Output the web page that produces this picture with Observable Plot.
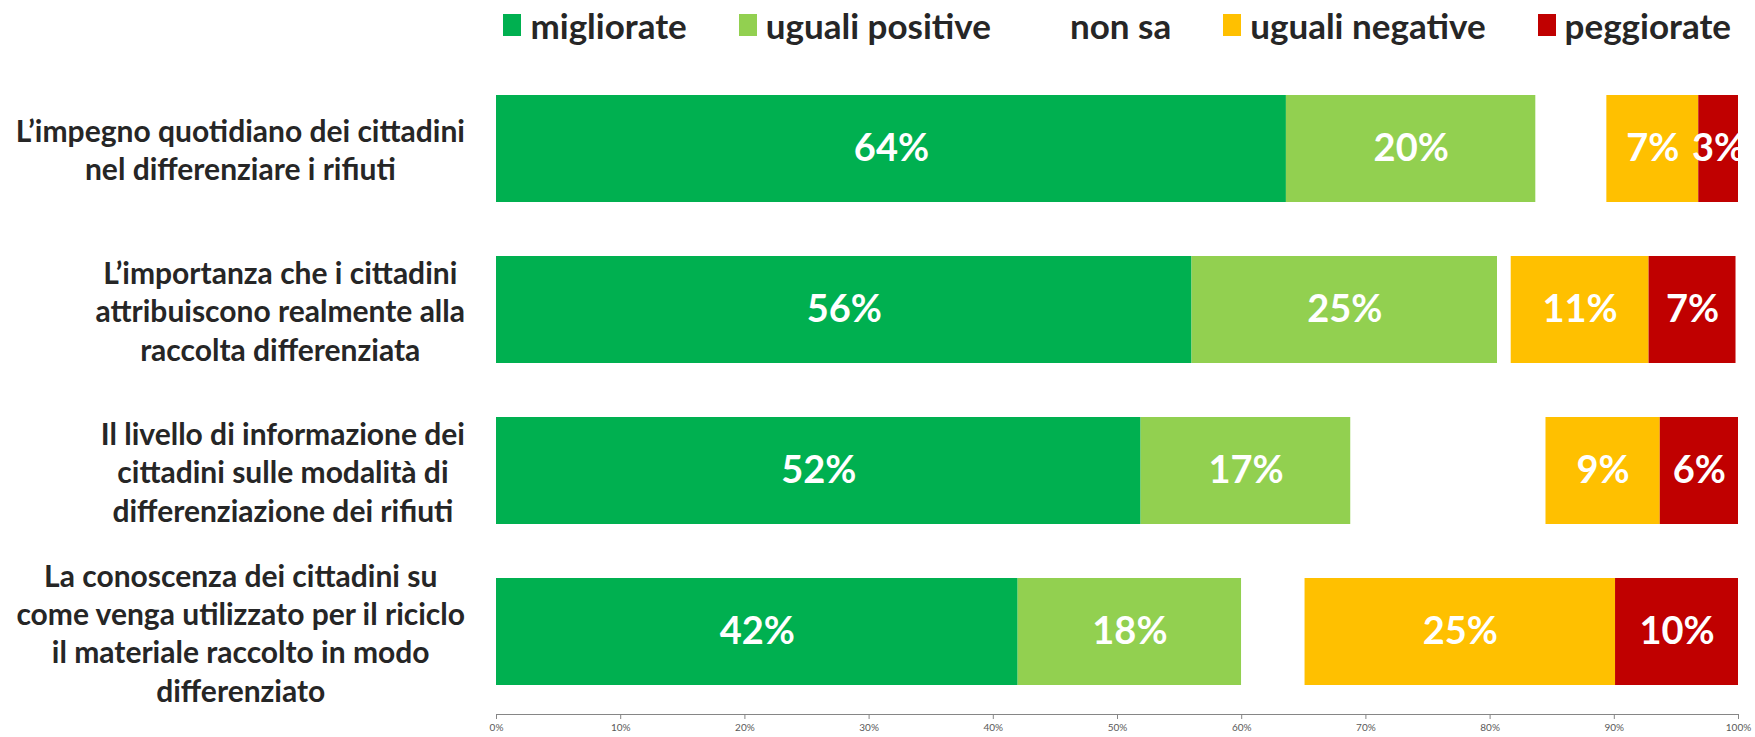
<!DOCTYPE html>
<html>
<head>
<meta charset="utf-8">
<script src="https://cdn.jsdelivr.net/npm/d3@7"></script>
<script src="https://cdn.jsdelivr.net/npm/@observablehq/plot@0.6"></script>
<style>
  html, body { margin: 0; padding: 0; background: #fff; }
  #wrap { width: 1755px; font-family: Lato, "Noto Sans", sans-serif; }
  #legend { height: 50px; display: flex; align-items: center; justify-content: flex-end; padding-right: 24px; gap: 52px; box-sizing: border-box; }
  .item { display: flex; align-items: center; gap: 9px; font-weight: 700; font-size: 35px; color: #262626; }
  .sw { width: 18px; height: 22px; display: inline-block; }
  svg [aria-label="x-axis tick label"] { fill: #595959; }
</style>
</head>
<body>
<div id="wrap">
  <div id="legend"></div>
  <div id="chart"></div>
</div>
<script>
const categories = [
  "L’impegno quotidiano dei cittadini\nnel differenziare i rifiuti",
  "L’importanza che i cittadini\nattribuiscono realmente alla\nraccolta differenziata",
  "Il livello di informazione dei\ncittadini sulle modalità di\ndifferenziazione dei rifiuti",
  "La conoscenza dei cittadini su\ncome venga utilizzato per il riciclo\nil materiale raccolto in modo\ndifferenziato"
];
const series = ["migliorate", "uguali positive", "non sa", "uguali negative", "peggiorate"];
const colors = ["#00B050", "#92D050", "#FFFFFF", "#FFC000", "#C00000"];

const migliorate      = [63.6, 56.0, 51.9, 42.0];
const ugualiPositive  = [20.1, 24.6, 16.9, 18.0];
const nonSa           = [5.7, 1.1, 15.7, 5.1];
const ugualiNegative  = [7.4, 11.1, 9.2, 25.0];
const peggiorate      = [3.2, 7.0, 6.3, 9.9];

const xTicks = [0, 10, 20, 30, 40, 50, 60, 70, 80, 90, 100];

const seriesValues = [migliorate, ugualiPositive, nonSa, ugualiNegative, peggiorate];
const data = [];
series.forEach((s, i) => {
  categories.forEach((c, j) => data.push({series: s, cat: c, value: seriesValues[i][j]}));
});

// legend
const legend = document.getElementById("legend");
series.forEach((s, i) => {
  const it = document.createElement("div");
  it.className = "item";
  const sw = document.createElement("span");
  sw.className = "sw";
  sw.style.background = colors[i];
  const t = document.createElement("span");
  t.textContent = s;
  it.appendChild(sw); it.appendChild(t);
  legend.appendChild(it);
});

const chart = Plot.plot({
  width: 1755,
  height: 687,
  marginLeft: 496,
  marginRight: 17,
  marginTop: 16,
  marginBottom: 23,
  style: {fontFamily: "Lato, 'Noto Sans', sans-serif", color: "#868686", background: "#fff"},
  x: {domain: [0, 100], ticks: xTicks, tickFormat: d => d + "%", tickSize: 5, line: true, label: null},
  y: {domain: categories, axis: null, paddingInner: 0.333, paddingOuter: 0.1667},
  color: {domain: series, range: colors},
  marks: [
    Plot.barX(data, Plot.stackX({x: "value", y: "cat", fill: "series", order: series})),
    Plot.text(data, Plot.stackX({
      x: "value", y: "cat", z: "series", order: series,
      text: d => d.series === "non sa" ? "" : Math.round(d.value) + "%",
      fill: "#fff", fontSize: 38, fontWeight: 700
    })),
    Plot.text(categories, {
      y: d => d, text: d => d, frameAnchor: "left", dx: -31,
      textAnchor: "middle", fill: "#262626", fontSize: 30, fontWeight: 700,
      lineHeight: 1.28, className: "ylab"
    })
  ]
});
document.getElementById("chart").appendChild(chart);

// right-align each centered label block at the same edge
const rightEdge = 496 - 31;
chart.querySelectorAll("g.ylab text, .ylab text").forEach(t => {
  const b = t.getBBox();
  const m = t.getCTM();
  const right = (b.x + b.width) + (m ? m.e : 0);
  const shift = rightEdge - right;
  const tr = t.getAttribute("transform") || "";
  t.setAttribute("transform", `translate(${shift},0) ${tr}`);
});
</script>
</body>
</html>
